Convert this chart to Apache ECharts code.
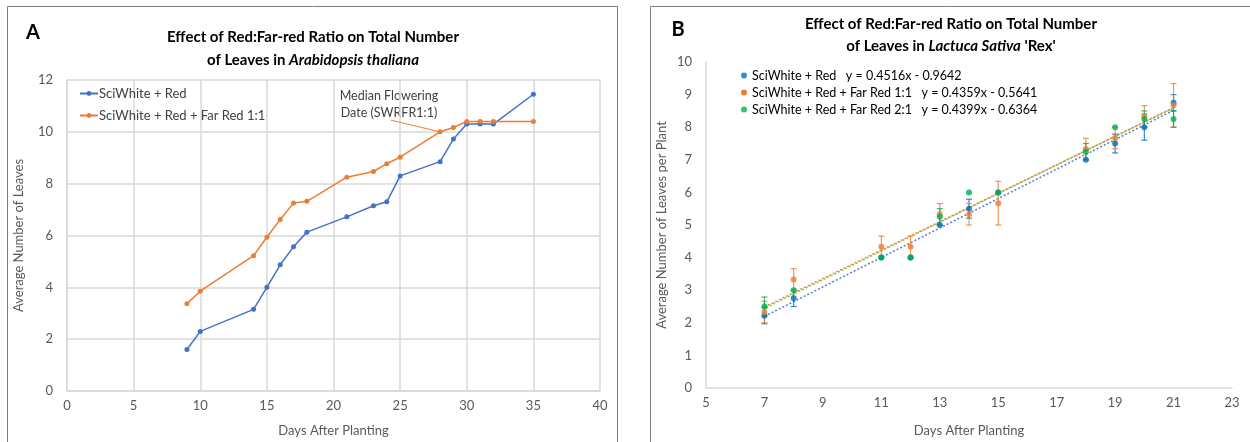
<!DOCTYPE html>
<html>
<head>
<meta charset="utf-8">
<script src="https://cdn.jsdelivr.net/npm/echarts@6/dist/echarts.min.js"></script>
<style>
  html, body { margin: 0; padding: 0; background: #fff; }
  #main { width: 1250px; height: 442px; }
</style>
</head>
<body>
<div id="main"></div>
<script>
// ---- panel A data ----
var daysA = [9, 10, 14, 15, 16, 17, 18, 21, 23, 24, 25, 28, 29, 30, 31, 32, 35];
var leavesRed = [1.6, 2.3, 3.15, 4.0, 4.87, 5.57, 6.13, 6.72, 7.15, 7.3, 8.3, 8.85, 9.72, 10.3, 10.3, 10.3, 11.45];
var leavesFR11 = [3.37, 3.85, 5.22, 5.93, 6.62, 7.25, 7.32, 8.25, 8.47, 8.77, 9.02, 10.0, 10.17, 10.4, 10.4, 10.4, 10.4];

// ---- panel B data ----
var daysB = [7, 8, 11, 12, 13, 14, 15, 18, 19, 20, 21];
var lettRed = [2.22, 2.75, 4.0, 4.0, 5.0, 5.5, 6.0, 7.0, 7.5, 8.0, 8.75];
var lettFR11 = [2.33, 3.33, 4.33, 4.33, 5.33, 5.33, 5.67, 7.33, 7.67, 8.33, 8.67];
var lettFR21 = [2.5, 3.0, 4.0, 4.0, 5.25, 6.0, 6.0, 7.25, 8.0, 8.25, 8.25];
var errRed = [0.25, 0.25, 0, 0, 0, 0.29, 0, 0, 0.29, 0.4, 0.25];
var errFR11 = [0.33, 0.33, 0.33, 0.33, 0.33, 0.33, 0.67, 0.33, 0.33, 0.33, 0.67];
var errFR21 = [0.29, 0, 0, 0, 0.25, 0, 0, 0.25, 0, 0.25, 0.25];
// trendline ends (day 7 and day 21) as drawn
var trendDays = [7, 21];
var trendRed = [2.197, 8.52];
var trendFR11 = [2.487, 8.59];
var trendFR21 = [2.443, 8.602];
var equations = ['y = 0.4516x - 0.9642', 'y = 0.4359x - 0.5641', 'y = 0.4399x - 0.6364'];
var namesB = ['SciWhite + Red', 'SciWhite + Red + Far Red 1:1', 'SciWhite + Red + Far Red 2:1'];

var FONT = 'Lato, "Open Sans", sans-serif';
var chart = echarts.init(document.getElementById('main'));

function pairs(xs, ys) {
  var out = [];
  for (var i = 0; i < xs.length; i++) out.push([xs[i], ys[i]]);
  return out;
}
function errData(xs, ys, es) {
  var out = [];
  for (var i = 0; i < xs.length; i++) {
    if (es[i] > 0) out.push([xs[i], ys[i] - es[i], ys[i] + es[i]]);
  }
  return out;
}
function errSeries(data, color) {
  return {
    type: 'custom', xAxisIndex: 1, yAxisIndex: 1, silent: true, z: 3,
    data: data,
    renderItem: function (params, api) {
      var lo = api.coord([api.value(0), api.value(1)]);
      var hi = api.coord([api.value(0), api.value(2)]);
      var w = 3;
      var st = { stroke: color, lineWidth: 1.2, opacity: 0.8 };
      return {
        type: 'group',
        children: [
          { type: 'line', shape: { x1: lo[0], y1: lo[1], x2: hi[0], y2: hi[1] }, style: st },
          { type: 'line', shape: { x1: lo[0] - w, y1: lo[1], x2: lo[0] + w, y2: lo[1] }, style: st },
          { type: 'line', shape: { x1: hi[0] - w, y1: hi[1], x2: hi[0] + w, y2: hi[1] }, style: st }
        ]
      };
    }
  };
}
var colA = ['#4472C4', '#ED7D31'];
var colB = ['#0070C0', '#ED7D31', '#00B050'];
var axisLbl = { color: '#595959', fontSize: 13, fontFamily: FONT };
var axisName = { color: '#595959', fontSize: 13, fontFamily: FONT };

var option = {
  animation: false,
  textStyle: { fontFamily: FONT },
  graphic: [
    { type: 'rect', shape: { x: 7.5, y: 6.5, width: 610, height: 460 }, style: { fill: 'none', stroke: '#7f7f7f', lineWidth: 1 }, silent: true },
    { type: 'rect', shape: { x: 650.5, y: 6.5, width: 620, height: 460 }, style: { fill: 'none', stroke: '#7f7f7f', lineWidth: 1 }, silent: true },
    { type: 'text', x: 33, y: 33, style: { text: 'A', font: 'bold 20px ' + FONT, fill: '#000', align: 'center', verticalAlign: 'middle' } },
    { type: 'text', x: 678, y: 30, style: { text: 'B', font: 'bold 20px ' + FONT, fill: '#000', align: 'center', verticalAlign: 'middle' } },
    { type: 'text', x: 313, y: 26, style: {
        text: '{b|Effect of Red:Far-red Ratio on Total Number}\n{b|of Leaves in }{bi|Arabidopsis thaliana}',
        align: 'center', fill: '#000',
        rich: {
          b: { fontSize: 15, fontWeight: 'bold', fontFamily: FONT, lineHeight: 23, fill: '#000' },
          bi: { fontSize: 15, fontWeight: 'bold', fontStyle: 'italic', fontFamily: FONT, lineHeight: 23, fill: '#000' }
        } } },
    { type: 'text', x: 951, y: 13, style: {
        text: '{b|Effect of Red:Far-red Ratio on Total Number}\n{b|of Leaves in }{bi|Lactuca Sativa}{b| \'Rex\'}',
        align: 'center', fill: '#000',
        rich: {
          b: { fontSize: 15, fontWeight: 'bold', fontFamily: FONT, lineHeight: 22, fill: '#000' },
          bi: { fontSize: 15, fontWeight: 'bold', fontStyle: 'italic', fontFamily: FONT, lineHeight: 22, fill: '#000' }
        } } },
    { type: 'text', x: 389, y: 87, style: {
        text: 'Median Flowering\nDate (SWRFR1:1)', align: 'center', fill: '#404040',
        font: '12.5px ' + FONT, lineHeight: 17 } }
  ],
  legend: [
    { data: ['SciWhite + Red', 'SciWhite + Red + Far Red 1:1 '], left: 74, top: 82, orient: 'vertical',
      itemWidth: 18, itemHeight: 6, itemGap: 9,
      textStyle: { fontSize: 13, color: '#404040', fontFamily: FONT, padding: [0, 0, 0, -4] } },
    { data: namesB.map(function (n) { return n + ' '; }), left: 736, top: 64, orient: 'vertical',
      itemWidth: 6, itemHeight: 6, itemGap: 4, icon: 'circle',
      formatter: function (n) { var i = namesB.indexOf(n.trim()); return n.trim() + '   ' + equations[i]; },
      textStyle: { fontSize: 12.5, color: '#000', fontFamily: FONT } }
  ],
  grid: [
    { left: 67, top: 80, width: 533, height: 315 },
    { left: 706, top: 62, width: 526, height: 335 }
  ],
  xAxis: [
    { type: 'value', gridIndex: 0, min: 0, max: 40, interval: 5,
      axisLine: { lineStyle: { color: '#d9d9d9', width: 1.5 } }, axisTick: { show: false },
      splitLine: { lineStyle: { color: '#d9d9d9', width: 1.5 } }, axisLabel: axisLbl,
      name: 'Days After Planting', nameLocation: 'middle', nameGap: 33, nameTextStyle: axisName },
    { type: 'value', gridIndex: 1, min: 5, max: 23, interval: 2,
      axisLine: { lineStyle: { color: '#d9d9d9', width: 1.5 } }, axisTick: { show: false },
      splitLine: { show: false }, axisLabel: axisLbl,
      name: 'Days After Planting', nameLocation: 'middle', nameGap: 36, nameTextStyle: axisName }
  ],
  yAxis: [
    { type: 'value', gridIndex: 0, min: 0, max: 12, interval: 2,
      axisLine: { show: true, lineStyle: { color: '#d9d9d9', width: 1.5 } }, axisTick: { show: false },
      splitLine: { lineStyle: { color: '#d9d9d9', width: 1.5 } }, axisLabel: Object.assign({ margin: 14 }, axisLbl),
      name: 'Average Number of Leaves', nameLocation: 'middle', nameGap: 42, nameTextStyle: axisName },
    { type: 'value', gridIndex: 1, min: 0, max: 10, interval: 1,
      axisLine: { show: true, lineStyle: { color: '#d9d9d9', width: 1.5 } }, axisTick: { show: false },
      splitLine: { show: false }, axisLabel: Object.assign({ margin: 14 }, axisLbl),
      name: 'Average Number of Leaves per Plant', nameLocation: 'middle', nameGap: 38, nameTextStyle: axisName }
  ],
  series: [
    { name: 'SciWhite + Red', type: 'line', xAxisIndex: 0, yAxisIndex: 0, data: pairs(daysA, leavesRed),
      symbol: 'circle', symbolSize: 5, color: colA[0], lineStyle: { width: 1.5, color: colA[0] } },
    { name: 'SciWhite + Red + Far Red 1:1 ', type: 'line', xAxisIndex: 0, yAxisIndex: 0, data: pairs(daysA, leavesFR11),
      symbol: 'circle', symbolSize: 5, color: colA[1], lineStyle: { width: 1.5, color: colA[1] },
      markLine: { silent: true, symbol: 'none', label: { show: false },
        lineStyle: { color: colA[1], width: 1, type: 'solid' },
        data: [[{ coord: [24.3, 10.45] }, { coord: [28, 10] }]] } },
    // trendlines
    { type: 'line', xAxisIndex: 1, yAxisIndex: 1, data: pairs(trendDays, trendRed), symbol: 'none', silent: true, z: 2,
      lineStyle: { color: '#4f81d6', width: 1.5, type: [2, 2] } },
    { type: 'line', xAxisIndex: 1, yAxisIndex: 1, data: pairs(trendDays, trendFR11), symbol: 'none', silent: true, z: 2,
      lineStyle: { color: '#ED7D31', width: 1.5, type: [2, 2] } },
    { type: 'line', xAxisIndex: 1, yAxisIndex: 1, data: pairs(trendDays, trendFR21), symbol: 'none', silent: true, z: 2,
      lineStyle: { color: '#9bbb59', width: 1.5, type: [2, 2], dashOffset: 2 } },
    errSeries(errData(daysB, lettRed, errRed), colB[0]),
    errSeries(errData(daysB, lettFR11, errFR11), colB[1]),
    errSeries(errData(daysB, lettFR21, errFR21), colB[2]),
    { name: namesB[0] + ' ', type: 'scatter', xAxisIndex: 1, yAxisIndex: 1, data: pairs(daysB, lettRed),
      symbolSize: 6, color: colB[0], z: 4 },
    { name: namesB[1] + ' ', type: 'scatter', xAxisIndex: 1, yAxisIndex: 1, data: pairs(daysB, lettFR11),
      symbolSize: 6, color: colB[1], z: 4 },
    { name: namesB[2] + ' ', type: 'scatter', xAxisIndex: 1, yAxisIndex: 1, data: pairs(daysB, lettFR21),
      symbolSize: 6, color: colB[2], z: 4 }
  ]
};
chart.setOption(option);
</script>
</body>
</html>
